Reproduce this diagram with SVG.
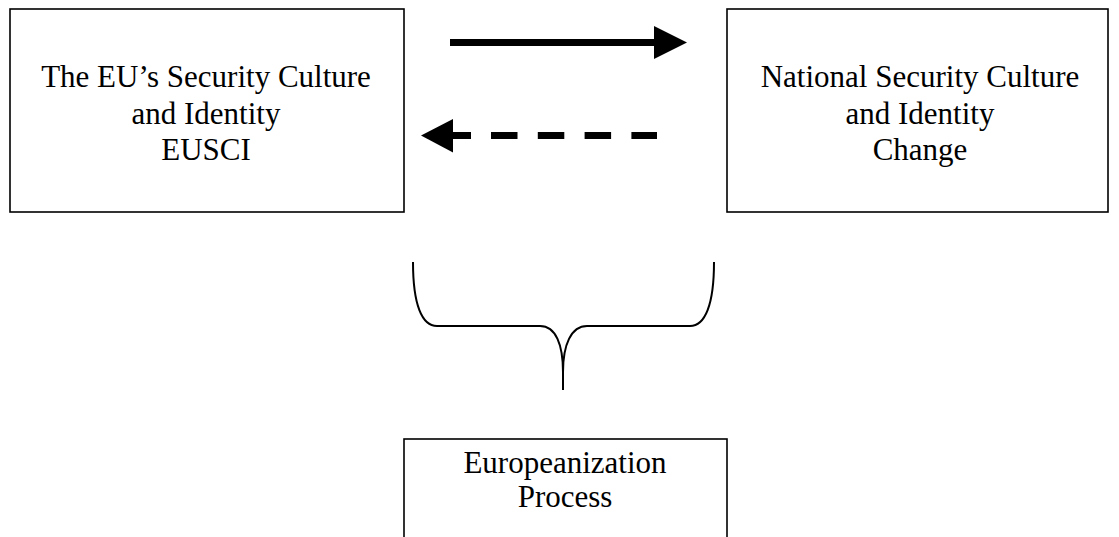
<svg xmlns="http://www.w3.org/2000/svg" width="1119" height="537" viewBox="0 0 1119 537">
<style>
.box{fill:#fff;stroke:#000;stroke-width:1.6}
.t{font-family:"Liberation Serif","Times New Roman",serif;font-size:31px;fill:#000;text-anchor:middle}
.ln{fill:none;stroke:#000;stroke-width:7}
.br{fill:none;stroke:#000;stroke-width:2}
</style>
<rect width="1119" height="537" fill="#fff"/>
<g id="eusci">
<rect class="box" x="10" y="9" width="394" height="203"/>
<text class="t" x="206" y="87">The EU’s Security Culture</text>
<text class="t" x="206" y="124">and Identity</text>
<text class="t" x="206" y="160">EUSCI</text>
</g>
<g id="national">
<rect class="box" x="727" y="9" width="381" height="203"/>
<text class="t" x="920" y="87">National Security Culture</text>
<text class="t" x="920" y="124">and Identity</text>
<text class="t" x="920" y="160">Change</text>
</g>
<g id="europeanization">
<rect class="box" x="404" y="439" width="323" height="110"/>
<text class="t" x="565" y="473">Europeanization</text>
<text class="t" x="565" y="507">Process</text>
</g>
<g id="connectors">
<line class="ln" x1="450" y1="42.5" x2="656" y2="42.5"/>
<polygon points="654,26 687,42.5 654,59" fill="#000"/>
<line class="ln" x1="452" y1="135.5" x2="471" y2="135.5"/>
<line class="ln" x1="491" y1="135.5" x2="657" y2="135.5" stroke-dasharray="26.5 20.3"/>
<polygon points="453,119 421,135.5 453,152.5" fill="#000"/>
<path class="br" d="M413,262 C413,305 422,326 437,326 L540,326 C556,326 563,345 563,372 L563,390 M714,262 C714,305 705,326 690,326 L587,326 C571,326 563,345 563,372"/>
</g>
</svg>
